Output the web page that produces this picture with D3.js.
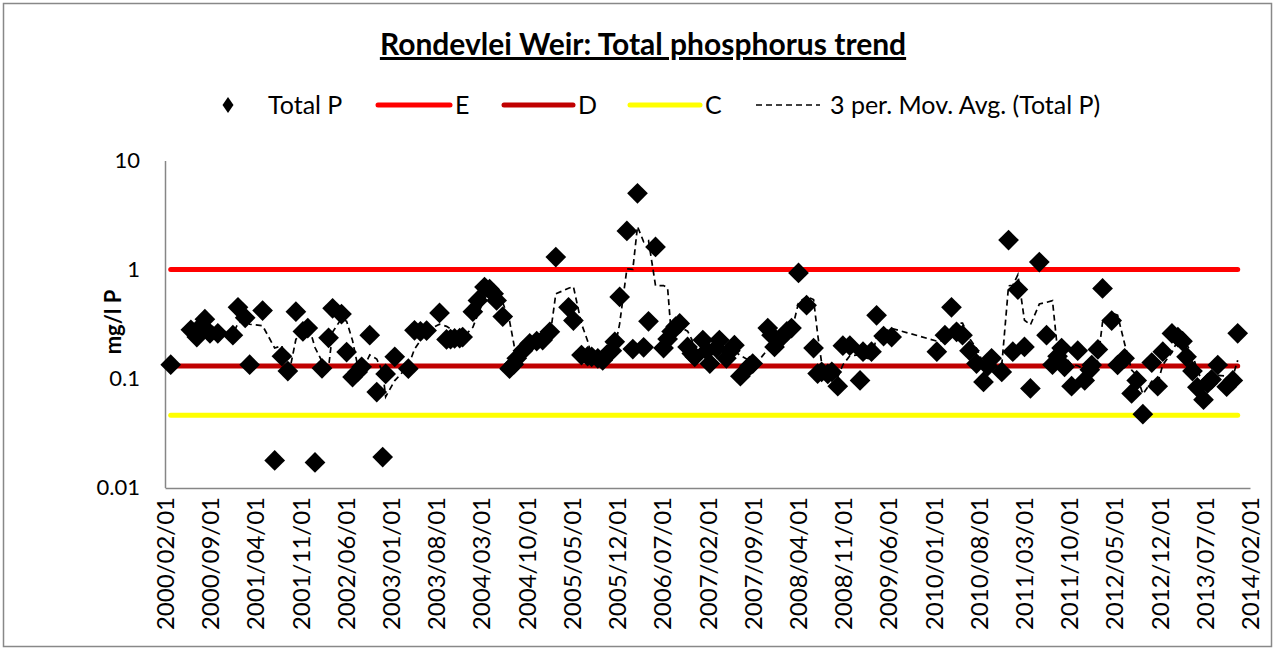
<!DOCTYPE html>
<html>
<head>
<meta charset="utf-8">
<script src="https://cdn.jsdelivr.net/npm/d3@7"></script>
<style>
body{margin:0;background:#fff}
text{font-family:Lato,"Open Sans",sans-serif;fill:#000}
</style>
</head>
<body>
<svg id="chart" width="1277" height="650"></svg>
<script>
// sample dates and Total P (mg/l P)
var sampleDates = ["2000-02-28","2000-06-02","2000-06-30","2000-07-18","2000-08-07","2000-08-31","2000-10-07","2000-12-17",
"2001-01-10","2001-02-13","2001-03-06","2001-05-06","2001-07-02","2001-08-05","2001-09-02","2001-10-10","2001-11-12","2001-12-05",
"2002-01-08","2002-02-10","2002-03-13","2002-04-01","2002-05-13","2002-06-06","2002-07-04","2002-07-28","2002-08-16","2002-09-23","2002-10-26","2002-11-23","2002-12-07",
"2003-01-19","2003-03-24","2003-04-22","2003-05-20","2003-06-18","2003-08-18","2003-09-20","2003-10-09","2003-10-28","2003-11-21","2003-12-05",
"2004-01-22","2004-02-15","2004-03-17","2004-04-10","2004-04-29","2004-05-13","2004-06-11","2004-07-13","2004-08-02","2004-08-16","2004-09-14","2004-10-16","2004-11-18","2004-12-16",
"2005-01-19","2005-02-16","2005-04-17","2005-05-10","2005-06-17","2005-07-16","2005-08-04","2005-09-02","2005-09-25","2005-10-14","2005-11-07","2005-11-21","2005-12-14",
"2006-01-17","2006-02-14","2006-03-08","2006-04-06","2006-04-29","2006-06-01","2006-07-09","2006-07-28","2006-08-16","2006-09-04","2006-09-23","2006-10-30","2006-11-19","2006-12-03",
"2007-01-10","2007-01-29","2007-02-12","2007-03-15","2007-03-29","2007-05-01","2007-05-20","2007-06-08","2007-07-06","2007-08-18","2007-09-02","2007-11-12","2007-11-30","2007-12-14",
"2008-01-17","2008-02-10","2008-03-03","2008-04-05","2008-05-13","2008-06-15","2008-07-04","2008-07-23","2008-08-21","2008-09-09","2008-10-07","2008-10-31","2008-12-03",
"2009-01-20","2009-02-03","2009-03-15","2009-04-08","2009-05-11","2009-06-18",
"2010-01-17","2010-02-24","2010-03-27","2010-04-20","2010-05-18","2010-06-20","2010-07-23","2010-08-25","2010-09-14","2010-10-02","2010-11-19","2010-12-21",
"2011-01-10","2011-02-03","2011-03-06","2011-04-03","2011-05-15","2011-06-18","2011-07-16","2011-08-09","2011-08-28","2011-09-11","2011-10-14","2011-11-12","2011-12-15",
"2012-01-08","2012-01-17","2012-02-15","2012-03-08","2012-04-20","2012-05-18","2012-06-20","2012-07-23","2012-08-16","2012-09-14","2012-10-26","2012-11-23","2012-12-17",
"2013-01-29","2013-02-26","2013-03-20","2013-04-08","2013-05-06","2013-05-29","2013-06-27","2013-07-16","2013-08-04","2013-09-02","2013-10-14","2013-11-12","2013-12-05"]

var totalP = [0.134,0.28,0.24,0.30,0.35,0.26,0.26,0.25,
0.45,0.36,0.134,0.42,0.0177,0.16,0.117,0.41,0.27,0.29,
0.017,0.124,0.236,0.44,0.39,0.175,0.103,0.115,0.128,0.25,0.075,0.019,0.11,
0.158,0.123,0.277,0.27,0.275,0.40,0.228,0.23,0.233,0.235,0.24,
0.41,0.52,0.69,0.66,0.60,0.52,0.37,0.123,0.135,0.153,0.18,0.21,0.22,0.225,
0.268,1.30,0.45,0.34,0.164,0.16,0.158,0.153,0.147,0.165,0.18,0.217,0.56,
2.26,0.186,5.0,0.193,0.335,1.61,0.19,0.23,0.27,0.30,0.32,0.195,0.17,0.158,
0.225,0.18,0.137,0.19,0.225,0.153,0.18,0.202,0.105,0.13,0.137,0.29,0.25,0.195,
0.24,0.27,0.29,0.93,0.47,0.19,0.111,0.115,0.11,0.115,0.085,0.20,0.20,
0.096,0.176,0.176,0.38,0.245,0.24,
0.176,0.25,0.45,0.268,0.25,0.18,0.137,0.093,0.13,0.153,0.115,1.86,
0.176,0.655,0.195,0.081,1.17,0.25,0.134,0.16,0.19,0.128,0.085,0.18,0.096,
0.12,0.133,0.185,0.67,0.34,0.133,0.153,0.073,0.096,0.047,0.14,0.085,0.176,
0.259,0.24,0.22,0.158,0.117,0.083,0.064,0.09,0.098,0.133,0.084,0.096,0.26]

var limitNames = ["E","D","C"]
var limitValues = [1, 0.13, 0.046]

var yTicks = [10, 1, 0.1, 0.01]
var yTickLabels = ["10","1","0.1","0.01"]
var xTickLabels = ["2000/02/01","2000/09/01","2001/04/01","2001/11/01","2002/06/01","2003/01/01","2003/08/01",
"2004/03/01","2004/10/01","2005/05/01","2005/12/01","2006/07/01","2007/02/01","2007/09/01","2008/04/01",
"2008/11/01","2009/06/01","2010/01/01","2010/08/01","2011/03/01","2011/10/01","2012/05/01","2012/12/01",
"2013/07/01","2014/02/01"]

var titleText = "Rondevlei Weir: Total phosphorus trend"
var yTitle = "mg/l P"
var seriesName = "Total P"
var maName = "3 per. Mov. Avg. (Total P)"

var limitColor = {E:"#ff0000", D:"#c00000", C:"#ffff00"}

var svg = d3.select("#chart")
var parseISO = d3.timeParse("%Y-%m-%d")
var parseTick = d3.timeParse("%Y/%m/%d")

var data = sampleDates.map(function(d,i){return {date:parseISO(d), v:totalP[i]}})

// 3 period moving average, like Excel's trendline
var ma = []
for(var i=2;i<data.length;i++){
	ma.push({date:data[i].date, v:(data[i].v+data[i-1].v+data[i-2].v)/3})
}

var x = d3.scaleTime().domain([parseTick(xTickLabels[0]), parseTick(xTickLabels[xTickLabels.length-1])]).range([165,1250])
var y = d3.scaleLog().domain([0.01,10]).range([487.5,160.5])

// outer frame
svg.append("rect").attr("x",3.5).attr("y",3.5).attr("width",1268).attr("height",643)
	.attr("fill","#fff").attr("stroke","#888").attr("stroke-width",1.5)

// title
svg.append("text").attr("x",643).attr("y",55).attr("text-anchor","middle")
	.style("font-size","30px").style("font-weight","bold").style("text-decoration","underline")
	.text(titleText)

// axes
var xAxis = svg.append("g").attr("transform","translate(0,488)")
	.call(d3.axisBottom(x).tickValues(xTickLabels.map(parseTick)).tickFormat(d3.timeFormat("%Y/%m/%d")).tickSize(0))
xAxis.select(".domain").attr("stroke","#868686").attr("stroke-width",1.5)
xAxis.selectAll("text").attr("transform","rotate(-90)").attr("text-anchor","end")
	.attr("x",-9).attr("y",0).attr("dy","0.36em").style("font-size","24px").style("font-family","Lato")

var yAxis = svg.append("g").attr("transform","translate(165,0)")
	.call(d3.axisLeft(y).tickValues(yTicks).tickFormat(function(d,i){return yTickLabels[i]}).tickSize(0).tickPadding(25))
yAxis.select(".domain").attr("stroke","#868686").attr("stroke-width",1.5)
yAxis.selectAll("text").style("font-size","22px").style("font-family","Lato")

svg.append("text").attr("transform","translate(121,322) rotate(-90)").attr("text-anchor","middle")
	.style("font-size","22px").style("font-weight","bold").text(yTitle)

// limit lines drawn across the sampled period
var first = data[0].date, last = data[data.length-1].date
limitNames.forEach(function(n,i){
	svg.append("line").attr("x1",x(first)).attr("x2",x(last)).attr("y1",y(limitValues[i])).attr("y2",y(limitValues[i]))
		.attr("stroke",limitColor[n]).attr("stroke-width",5).attr("stroke-linecap","round")
})

// markers
svg.append("g").selectAll("path").data(data).enter().append("path")
	.attr("d",d3.symbol(d3.symbolSquare,215))
	.attr("transform",function(d){return "translate("+x(d.date)+","+y(d.v)+") rotate(45)"})
	.attr("fill","#000")

// moving average
var line = d3.line().x(function(d){return x(d.date)}).y(function(d){return y(d.v)})
svg.append("path").datum(ma).attr("d",line).attr("fill","none")
	.attr("stroke","#000").attr("stroke-width",1.7).attr("stroke-dasharray","6,4")

// legend
var lg = svg.append("g").attr("transform","translate(0,105)")
lg.append("path").attr("d","M0,-8L5.5,0L0,8L-5.5,0Z").attr("transform","translate(228,0)").attr("fill","#000")
lg.append("text").attr("x",268).attr("y",0).attr("dy","0.35em").style("font-size","25px").text(seriesName)
var legX = [[378,450,455],[504,573,578],[630,700,705]]
limitNames.forEach(function(n,i){
	lg.append("line").attr("x1",legX[i][0]).attr("x2",legX[i][1]).attr("y1",0).attr("y2",0)
		.attr("stroke",limitColor[n]).attr("stroke-width",5).attr("stroke-linecap","round")
	lg.append("text").attr("x",legX[i][2]).attr("y",0).attr("dy","0.35em").style("font-size","25px").text(n)
})
lg.append("line").attr("x1",756).attr("x2",820).attr("y1",0).attr("y2",0)
	.attr("stroke","#000").attr("stroke-width",1.7).attr("stroke-dasharray","6,4")
lg.append("text").attr("x",830).attr("y",0).attr("dy","0.35em").style("font-size","25px").text(maName)
</script>
</body>
</html>
